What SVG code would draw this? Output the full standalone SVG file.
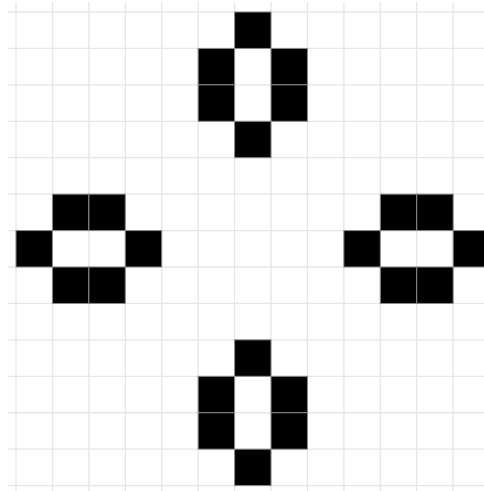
<svg xmlns="http://www.w3.org/2000/svg" width="484" height="491" viewBox="0 0 484 491">
<style>
.g line{stroke:#e6e6e6;stroke-width:1.3}
.c{fill:#000;stroke:#8a8a8a;stroke-width:1}
</style>
<rect width="484" height="491" fill="#fff"/>
<g class="g" id="grid">
<line x1="16" y1="2" x2="16" y2="491"/>
<line x1="52.43" y1="2" x2="52.43" y2="491"/>
<line x1="88.86" y1="2" x2="88.86" y2="491"/>
<line x1="125.29" y1="2" x2="125.29" y2="491"/>
<line x1="161.72" y1="2" x2="161.72" y2="491"/>
<line x1="198.15" y1="2" x2="198.15" y2="491"/>
<line x1="234.58" y1="2" x2="234.58" y2="491"/>
<line x1="271.01" y1="2" x2="271.01" y2="491"/>
<line x1="307.44" y1="2" x2="307.44" y2="491"/>
<line x1="343.87" y1="2" x2="343.87" y2="491"/>
<line x1="380.3" y1="2" x2="380.3" y2="491"/>
<line x1="416.73" y1="2" x2="416.73" y2="491"/>
<line x1="453.16" y1="2" x2="453.16" y2="491"/>
<line x1="8" y1="12" x2="484" y2="12"/>
<line x1="8" y1="48.43" x2="484" y2="48.43"/>
<line x1="8" y1="84.86" x2="484" y2="84.86"/>
<line x1="8" y1="121.29" x2="484" y2="121.29"/>
<line x1="8" y1="157.72" x2="484" y2="157.72"/>
<line x1="8" y1="194.15" x2="484" y2="194.15"/>
<line x1="8" y1="230.58" x2="484" y2="230.58"/>
<line x1="8" y1="267.01" x2="484" y2="267.01"/>
<line x1="8" y1="303.44" x2="484" y2="303.44"/>
<line x1="8" y1="339.87" x2="484" y2="339.87"/>
<line x1="8" y1="376.3" x2="484" y2="376.3"/>
<line x1="8" y1="412.73" x2="484" y2="412.73"/>
<line x1="8" y1="449.16" x2="484" y2="449.16"/>
<line x1="8" y1="485.59" x2="484" y2="485.59"/>
</g>
<g id="top">
<rect class="c" x="234.58" y="12" width="36.43" height="36.43"/>
<rect class="c" x="198.15" y="48.43" width="36.43" height="36.43"/>
<rect class="c" x="271.01" y="48.43" width="36.43" height="36.43"/>
<rect class="c" x="198.15" y="84.86" width="36.43" height="36.43"/>
<rect class="c" x="271.01" y="84.86" width="36.43" height="36.43"/>
<rect class="c" x="234.58" y="121.29" width="36.43" height="36.43"/>
</g>
<g id="left">
<rect class="c" x="52.43" y="194.15" width="36.43" height="36.43"/>
<rect class="c" x="88.86" y="194.15" width="36.43" height="36.43"/>
<rect class="c" x="16" y="230.58" width="36.43" height="36.43"/>
<rect class="c" x="125.29" y="230.58" width="36.43" height="36.43"/>
<rect class="c" x="52.43" y="267.01" width="36.43" height="36.43"/>
<rect class="c" x="88.86" y="267.01" width="36.43" height="36.43"/>
</g>
<g id="right">
<rect class="c" x="380.3" y="194.15" width="36.43" height="36.43"/>
<rect class="c" x="416.73" y="194.15" width="36.43" height="36.43"/>
<rect class="c" x="343.87" y="230.58" width="36.43" height="36.43"/>
<rect class="c" x="453.16" y="230.58" width="36.43" height="36.43"/>
<rect class="c" x="380.3" y="267.01" width="36.43" height="36.43"/>
<rect class="c" x="416.73" y="267.01" width="36.43" height="36.43"/>
</g>
<g id="bottom">
<rect class="c" x="234.58" y="339.87" width="36.43" height="36.43"/>
<rect class="c" x="198.15" y="376.3" width="36.43" height="36.43"/>
<rect class="c" x="271.01" y="376.3" width="36.43" height="36.43"/>
<rect class="c" x="198.15" y="412.73" width="36.43" height="36.43"/>
<rect class="c" x="271.01" y="412.73" width="36.43" height="36.43"/>
<rect class="c" x="234.58" y="449.16" width="36.43" height="36.43"/>
</g>
</svg>
